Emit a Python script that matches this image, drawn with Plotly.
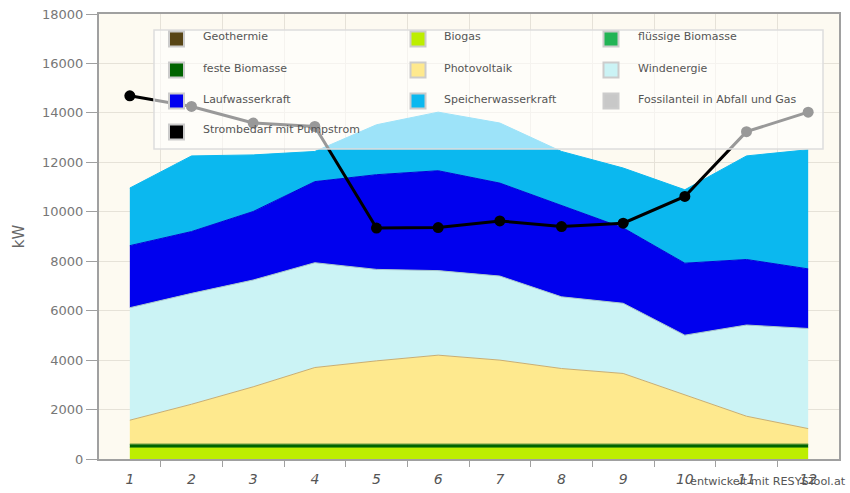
import plotly.graph_objects as go

# Months 1..12
months = list(range(1, 13))
month_labels = [str(m) for m in months]

# Monthly generation by source (kW), stacked in this order
geothermie = [0] * 12
biogas = [470] * 12
fluessige_biomasse = [0] * 12
feste_biomasse = [130] * 12
photovoltaik = [970, 1615, 2320, 3100, 3370, 3600, 3400, 3060, 2860, 1980, 1130, 630]
windenergie = [4550, 4485, 4320, 4240, 3700, 3420, 3400, 2900, 2840, 2430, 3690, 4050]
laufwasserkraft = [2510, 2500, 2770, 3280, 3830, 4040, 3760, 3690, 3050, 2910, 2650, 2410]
speicherwasserkraft = [2330, 3060, 2290, 1220, 2020, 2370, 2430, 2190, 2420, 2970, 4190, 4820]
fossilanteil = [0] * 12

# Demand including pumped storage (kW)
strombedarf = [14690, 14260, 13590, 13450, 9340, 9360, 9630, 9400, 9540, 10620, 13240, 14030]

series = [
    ("Geothermie", geothermie, "#584515", "#584515"),
    ("Biogas", biogas, "#BDEE00", "#A8D800"),
    ("flüssige Biomasse", fluessige_biomasse, "#22B455", "#22B455"),
    ("feste Biomasse", feste_biomasse, "#006400", "#2E7D1E"),
    ("Photovoltaik", photovoltaik, "#FEE98E", "#C9AE72"),
    ("Windenergie", windenergie, "#CBF3F5", "#A9C9CC"),
    ("Laufwasserkraft", laufwasserkraft, "#0000EE", "#0000D8"),
    ("Speicherwasserkraft", speicherwasserkraft, "#0BB8EF", "#0BB8EF"),
    ("Fossilanteil in Abfall und Gas", fossilanteil, "#C8C8C8", "#C8C8C8"),
]

fig = go.Figure()
for name, vals, fill, edge in series:
    zero = all(v == 0 for v in vals)
    fig.add_trace(go.Scatter(
        x=months, y=vals, name=name, mode="lines",
        stackgroup="mix", fillcolor=fill,
        line=dict(color=edge, width=0 if zero else 1),
        showlegend=False,
    ))

fig.add_trace(go.Scatter(
    x=months, y=strombedarf, name="Strombedarf mit Pumpstrom",
    mode="lines+markers",
    line=dict(color="#000000", width=3),
    marker=dict(color="#000000", size=11),
    showlegend=False,
))

# Plot area geometry in pixels
W, H = 850, 493
L, R, T, B = 99, 11, 14, 34
PW, PH = W - L - R, H - T - B


def px(xp):
    return (xp - L) / PW


def py(yp):
    return (H - B - yp) / PH


shapes = []
annotations = []

# Legend panel (semi-transparent over the plot)
shapes.append(dict(
    type="rect", xref="paper", yref="paper",
    x0=px(154), x1=px(823), y0=py(149), y1=py(30),
    fillcolor="rgba(255,255,255,0.6)",
    line=dict(color="#DDDDDD", width=1.5), layer="above",
))

legend_entries = [
    ("Geothermie", "#584515"), ("Biogas", "#BDEE00"), ("flüssige Biomasse", "#22B455"),
    ("feste Biomasse", "#006400"), ("Photovoltaik", "#FEE98E"), ("Windenergie", "#CBF3F5"),
    ("Laufwasserkraft", "#0000F0"), ("Speicherwasserkraft", "#0BB8EF"),
    ("Fossilanteil in Abfall und Gas", "#C8C8C8"),
    ("Strombedarf mit Pumpstrom", "#000000"),
]
col_sw = [176.5, 418, 611]
col_tx = [201, 442, 636]
row_sw = [39, 70, 101, 132]
row_tx = [37, 68, 99, 130]
for i, (label, col) in enumerate(legend_entries):
    r, c = divmod(i, 3)
    cx, cy = col_sw[c], row_sw[r]
    shapes.append(dict(
        type="rect", xref="paper", yref="paper",
        x0=px(cx - 7.5), x1=px(cx + 7.5), y0=py(cy + 7.5), y1=py(cy - 7.5),
        fillcolor=col, line=dict(color="#CCCCCC", width=2), layer="above",
    ))
    annotations.append(dict(
        xref="paper", yref="paper", x=px(col_tx[c]), y=py(row_tx[r]),
        xanchor="left", yanchor="middle", text=label, showarrow=False,
        font=dict(family="DejaVu Sans", size=11, color="#555555"),
    ))

annotations.append(dict(
    xref="paper", yref="paper", x=px(688), y=py(481),
    xanchor="left", yanchor="middle", text="entwickelt mit RESYSTool.at",
    showarrow=False, font=dict(family="DejaVu Sans", size=11.2, color="#555555"),
))

fig.update_layout(
    width=W, height=H,
    margin=dict(l=L, r=R, t=T, b=B, autoexpand=False),
    paper_bgcolor="#FFFFFF",
    plot_bgcolor="#FDFAF1",
    font=dict(family="DejaVu Sans", color="#777777"),
    shapes=shapes,
    annotations=annotations,
    showlegend=False,
)

fig.update_xaxes(
    range=[0.5, 12.5], automargin=False,
    tickvals=months, ticktext=month_labels,
    ticks="outside", ticklen=6, tickcolor="rgba(0,0,0,0)",
    tickfont=dict(family="DejaVu Sans", size=14, color="#555555", style="italic"),
    showgrid=False, zeroline=False,
    showline=True, linecolor="#A0A0A0", linewidth=2, mirror=True,
    minor=dict(tickvals=[m + 0.5 for m in months[:-1]], ticks="outside", ticklen=6,
               tickcolor="#A0A0A0", showgrid=True, gridcolor="#E6E2D8", gridwidth=1),
)

fig.update_yaxes(
    range=[0, 18000], dtick=2000, tickformat="d", automargin=False,
    ticks="outside", ticklen=11, tickcolor="#A0A0A0",
    tickfont=dict(family="DejaVu Sans", size=13, color="#777777"),
    showgrid=True, gridcolor="#E6E2D8", gridwidth=1, zeroline=False,
    showline=True, linecolor="#A0A0A0", linewidth=2, mirror=True,
    title=dict(text="kW", font=dict(family="DejaVu Sans", size=15, color="#666666"), standoff=14),
)

fig.write_html("out.html")
